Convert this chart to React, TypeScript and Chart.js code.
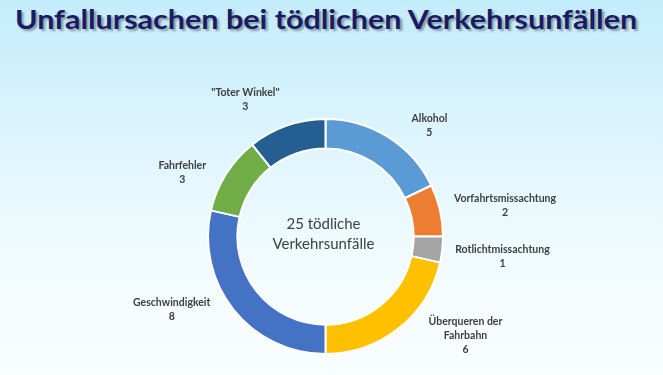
import React, { useEffect, useLayoutEffect, useRef } from 'react';
import { Chart, registerables } from 'chart.js';

Chart.register(...registerables);

const TITLE = 'Unfallursachen bei tödlichen Verkehrsunfällen';
const categories = [
  'Alkohol',
  'Vorfahrtsmissachtung',
  'Rotlichtmissachtung',
  'Überqueren der Fahrbahn',
  'Geschwindigkeit',
  'Fahrfehler',
  '"Toter Winkel"',
];
const labelLines = [
  ['Alkohol'],
  ['Vorfahrtsmissachtung'],
  ['Rotlichtmissachtung'],
  ['Überqueren der', 'Fahrbahn'],
  ['Geschwindigkeit'],
  ['Fahrfehler'],
  ['"Toter Winkel"'],
];
const values = [5, 2, 1, 6, 8, 3, 3];
const colors = ['#5B9BD5', '#ED7D31', '#A5A5A5', '#FFC000', '#4472C4', '#70AD47', '#255E91'];
const centerLines = ['25 tödliche', 'Verkehrsunfälle'];
// "best fit" label placement: angular nudge (degrees) from each slice's mid angle
const labelAngleNudge = [11, 3, 0, -16, 13, -8, -11];

const labelPlugin = {
  id: 'outerLabels',
  afterDatasetsDraw(chart: any) {
    const ctx = chart.ctx;
    const meta = chart.getDatasetMeta(0);
    ctx.save();
    ctx.font = 'bold 10.5px Lato';
    ctx.fillStyle = '#404040';
    ctx.textAlign = 'center';
    ctx.textBaseline = 'middle';
    const lh = 14;
    meta.data.forEach((arc: any, i: number) => {
      const p = arc.getProps(['x', 'y', 'startAngle', 'endAngle', 'outerRadius'], true);
      const mid = (p.startAngle + p.endAngle) / 2 + (labelAngleNudge[i] * Math.PI) / 180;
      const lines = [...labelLines[i], String(values[i])];
      const w = Math.max(...lines.map((l) => ctx.measureText(l).width));
      const h = lines.length * lh;
      const dx = Math.cos(mid);
      const dy = Math.sin(mid);
      const d = (Math.abs(dx) * w) / 2 + (Math.abs(dy) * h) / 2;
      const r = p.outerRadius + 12 + d;
      const cx = p.x + dx * r;
      const cy = p.y + dy * r;
      lines.forEach((l, j) => ctx.fillText(l, cx, cy - h / 2 + lh / 2 + j * lh));
    });
    const a0 = meta.data[0];
    if (a0) {
      ctx.font = '15px Lato';
      ctx.fillStyle = '#404040';
      const cx = a0.x - 2;
      const cy = a0.y - 2;
      centerLines.forEach((l, j) => ctx.fillText(l, cx, cy + (j - (centerLines.length - 1) / 2) * 20));
    }
    ctx.restore();
  },
};

export default function App() {
  const canvasRef = useRef<HTMLCanvasElement>(null);
  const titleRef = useRef<HTMLSpanElement>(null);

  useLayoutEffect(() => {
    const s = titleRef.current;
    if (s) {
      const w = s.offsetWidth;
      if (w > 0) s.style.transform = `scaleX(${622 / w})`;
    }
  }, []);

  useEffect(() => {
    if (!canvasRef.current) return;
    const chart = new Chart(canvasRef.current, {
      type: 'doughnut',
      data: {
        labels: categories,
        datasets: [
          {
            data: values,
            backgroundColor: colors,
            borderColor: '#ffffff',
            borderWidth: 2,
          },
        ],
      },
      options: {
        animation: false,
        responsive: false,
        maintainAspectRatio: false,
        cutout: '75%',
        layout: { padding: { left: 207, right: 219, top: 118, bottom: 20 } },
        plugins: {
          legend: { display: false },
          tooltip: { enabled: false },
          title: { display: false },
        },
      },
      plugins: [labelPlugin],
    });
    return () => chart.destroy();
  }, []);

  return (
    <div
      style={{
        position: 'fixed',
        left: 0,
        top: 0,
        width: 663,
        height: 375,
        overflow: 'hidden',
        background:
          'linear-gradient(to bottom, #c3ecfb 0%, #d9f3fd 30%, #ecfafe 60%, #f7fdff 85%, #f9feff 100%)',
      }}
    >
      <div
        style={{
          position: 'absolute',
          left: 0,
          top: 3,
          width: 663,
          textAlign: 'center',
        }}
      >
        <span
          ref={titleRef}
          style={{
            display: 'inline-block',
            fontFamily: 'Lato',
            fontWeight: 700,
            fontSize: 26,
            color: '#1b1b63',
            textShadow: '2px 2px 2px rgba(0,0,0,0.35)',
            whiteSpace: 'nowrap',
            transformOrigin: 'center',
            marginLeft: -10,
          }}
        >
          {TITLE}
        </span>
      </div>
      <canvas ref={canvasRef} width={663} height={375} style={{ position: 'absolute', left: 0, top: 0 }} />
    </div>
  );
}
